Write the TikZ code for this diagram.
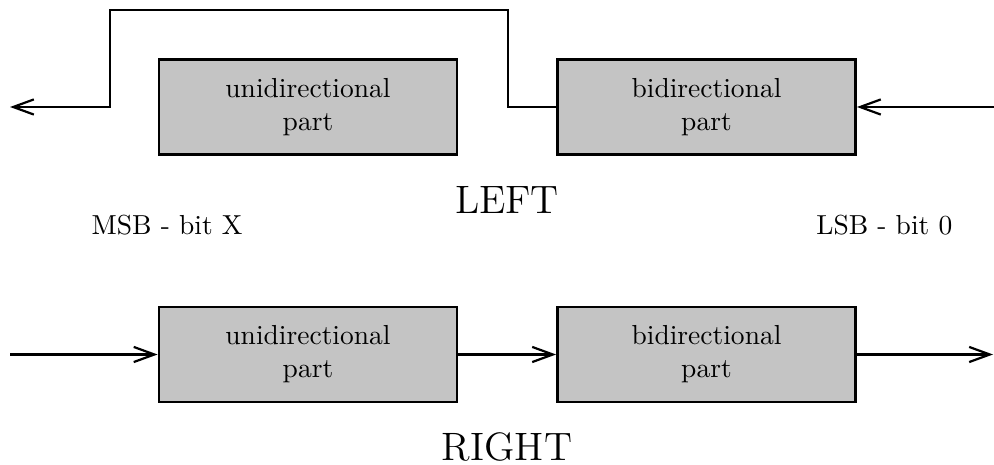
\documentclass[tikz,border=0pt]{standalone}
\usepackage{tikz}
\usetikzlibrary{arrows.meta}

\tikzset{
    part/.style={draw, rectangle, fill=black!23, line width=0.9pt,
        minimum width=108.5pt, minimum height=34.5pt, inner sep=0pt, align=center},
    wire/.style={line width=0.8pt, -{Straight Barb[length=7.5pt,width=5.5pt]}}
}

\begin{document}
\begin{tikzpicture}[x=0.3636pt, y=-0.3636pt]
    \useasboundingbox (0,0) rectangle (994,465);

    % LEFT: unidirectional part
    \node[part] (luni) at (308,107) {unidirectional\\part};

    % LEFT: bidirectional part
    \node[part] (lbi) at (706.5,107) {bidirectional\\part};

    % RIGHT: unidirectional part
    \node[part] (runi) at (308,354.5) {unidirectional\\part};

    % RIGHT: bidirectional part
    \node[part] (rbi) at (706.5,354.5) {bidirectional\\part};

    % Free ends and corners
    \coordinate (lout) at (10,107);
    \coordinate (lin) at (994,107);
    \coordinate (upL) at (110,10);
    \coordinate (upR) at (508,10);
    \coordinate (rin) at (10,354.5);
    \coordinate (rout) at (993,354.5);

    % Connections (left shift)
    \draw[wire] (lin) -- (lbi.east);
    \draw[wire] (lbi.west) -| (upR) -- (upL) |- (lout);

    % Connections (right shift)
    \draw[wire] (rin) -- (runi.west);
    \draw[wire] (runi.east) -- (rbi.west);
    \draw[wire] (rbi.east) -- (rout);

    % Labels
    \node (left) at (507,200) {\Large LEFT};
    \node[anchor=west] (msb) at (82,225) {MSB - bit X};
    \node[anchor=east] (lsb) at (962,225) {LSB - bit 0};
    \node (right) at (507,447) {\Large RIGHT};

\end{tikzpicture}
\end{document}
